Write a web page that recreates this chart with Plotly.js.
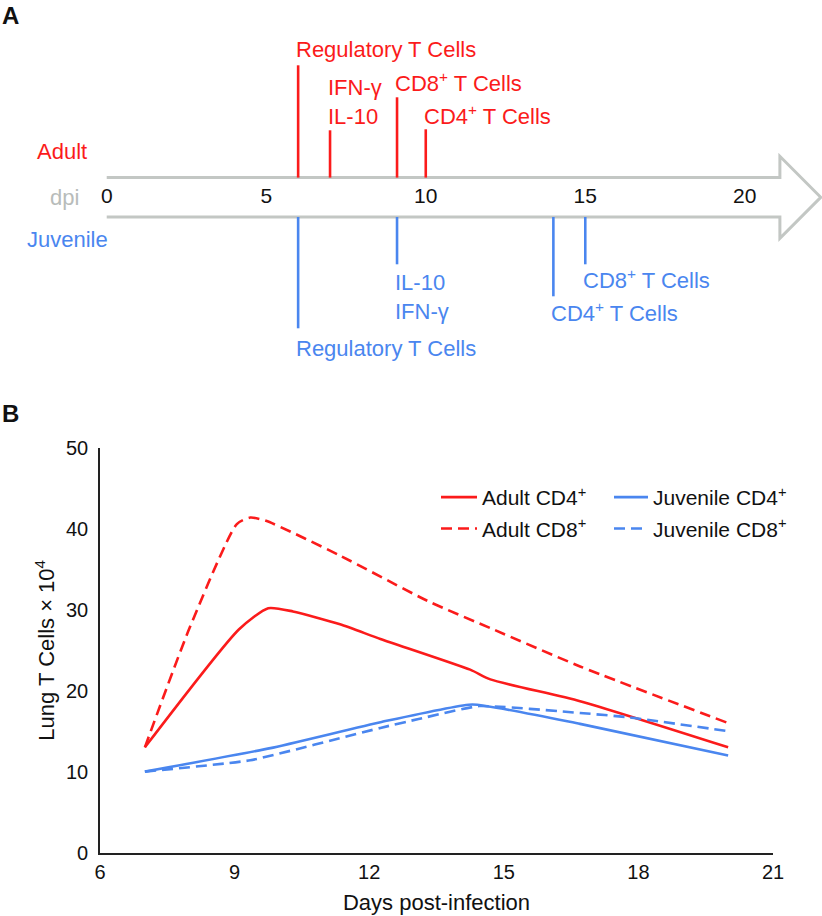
<!DOCTYPE html>
<html><head><meta charset="utf-8">
<script src="https://cdn.plot.ly/plotly-3.0.1.min.js"></script>
<style>html,body{margin:0;padding:0;background:#fff}#chart{width:822px;height:916px}</style>
</head><body><div id="chart"></div>
<script>
// ---------- Panel A data ----------
const dpiTicks = [0, 5, 10, 15, 20];
const adultEventDays = [6, 7, 9.1, 10];
const adultEventLabels = ['Regulatory T Cells', 'IFN-γ<br>IL-10', 'CD8<sup>+</sup> T Cells', 'CD4<sup>+</sup> T Cells'];
const juvenileEventDays = [6, 9.1, 14, 15];
const juvenileEventLabels = ['Regulatory T Cells', 'IL-10<br>IFN-γ', 'CD4<sup>+</sup> T Cells', 'CD8<sup>+</sup> T Cells'];

// ---------- Panel B data ----------
const adultCD4Days = [7, 9.1, 9.75, 10.3, 11.35, 12.25, 14.25, 14.7, 16.7, 20];
const adultCD4 = [13, 27.6, 30.2, 29.8, 28.2, 26.4, 22.6, 21.4, 18.7, 13];
const adultCD8Days = [7, 8.0, 9.05, 9.35, 9.7, 11.35, 13.3, 14.8, 16.7, 20];
const adultCD8 = [13, 27.8, 40.6, 41.4, 41.0, 36.7, 31.1, 27.5, 23.0, 16];
const juvenileCD4Days = [7, 9.8, 12.25, 14.3, 16.7, 20];
const juvenileCD4 = [10, 12.9, 16.1, 18.3, 15.9, 12];
const juvenileCD8Days = [7, 9.35, 12.25, 13.1, 14.45, 16.7, 17.8, 20];
const juvenileCD8 = [10, 11.4, 15.4, 16.5, 18.1, 17.25, 16.7, 15];

// ---------- styling / layout constants ----------
const W = 822, H = 916;
const RED = '#fb1b1b', BLUE = '#4a86ef', GRAY = '#c3c7c4';
const FONT = 'Liberation Sans, Arial, Helvetica, sans-serif';
const px = x => x / W;          // pixel -> paper x
const py = y => 1 - y / H;      // pixel -> paper y
// Panel A stem lengths (y2 units = pixels from arrow centre)
const arrowHalf = 19.7;
const adultStemTop = [132, 67, 100, 68];
const juvenileStemBottom = [-131, -67, -99, -67];
const adultLabelShift = [1, -1, -1, -2];
const juvenileLabelShift = [-6, -4, 0, 1];

function stems(days, ends) {
  const x = [], y = [];
  days.forEach((d, i) => { x.push(d, d, null); y.push(ends[i] > 0 ? arrowHalf : -arrowHalf, ends[i], null); });
  return {x, y};
}
const aS = stems(adultEventDays, adultStemTop);
const jS = stems(juvenileEventDays, juvenileStemBottom);

const lineW = 2.6, dashPat = '11px,6px';
const traces = [
  {x: aS.x, y: aS.y, xaxis: 'x2', yaxis: 'y2', mode: 'lines', line: {color: RED, width: 2.6}, showlegend: false, hoverinfo: 'skip'},
  {x: jS.x, y: jS.y, xaxis: 'x2', yaxis: 'y2', mode: 'lines', line: {color: BLUE, width: 2.6}, showlegend: false, hoverinfo: 'skip'},
  {x: dpiTicks, y: dpiTicks.map(() => 0), xaxis: 'x2', yaxis: 'y2', mode: 'text', text: dpiTicks.map(String),
   textfont: {family: FONT, size: 21, color: '#111'}, textposition: 'middle center', showlegend: false, hoverinfo: 'skip'},
  {x: adultCD4Days, y: adultCD4, name: 'Adult CD4<sup>+</sup>', mode: 'lines', line: {color: RED, width: lineW, shape: 'spline', smoothing: 0.6}, legend: 'legend', legendgroup: 'a'},
  {x: adultCD8Days, y: adultCD8, name: 'Adult CD8<sup>+</sup>', mode: 'lines', line: {color: RED, width: lineW, dash: dashPat, shape: 'spline', smoothing: 0.6}, legend: 'legend', legendgroup: 'b'},
  {x: juvenileCD4Days, y: juvenileCD4, name: 'Juvenile CD4<sup>+</sup>', mode: 'lines', line: {color: BLUE, width: lineW, shape: 'spline', smoothing: 0.4}, legend: 'legend2', legendgroup: 'c'},
  {x: juvenileCD8Days, y: juvenileCD8, name: 'Juvenile CD8<sup>+</sup>', mode: 'lines', line: {color: BLUE, width: lineW, dash: dashPat, shape: 'spline', smoothing: 0.4}, legend: 'legend2', legendgroup: 'd'}
];

const labelFont = (c) => ({family: FONT, size: 22, color: c});
const annotations = [];
adultEventDays.forEach((d, i) => annotations.push({
  x: d, y: adultStemTop[i], xref: 'x2', yref: 'y2', text: adultEventLabels[i], showarrow: false,
  xanchor: 'left', yanchor: 'bottom', align: 'left', xshift: -4, yshift: adultLabelShift[i], font: labelFont(RED)
}));
juvenileEventDays.forEach((d, i) => annotations.push({
  x: d, y: juvenileStemBottom[i], xref: 'x2', yref: 'y2', text: juvenileEventLabels[i], showarrow: false,
  xanchor: 'left', yanchor: 'top', align: 'left', xshift: -4, yshift: juvenileLabelShift[i], font: labelFont(BLUE)
}));
annotations.push(
  {x: px(89), y: py(151.7), xref: 'paper', yref: 'paper', text: 'Adult', showarrow: false, xanchor: 'right', yanchor: 'middle', font: labelFont(RED)},
  {x: px(64), y: py(197), xref: 'paper', yref: 'paper', text: 'dpi', showarrow: false, xanchor: 'center', yanchor: 'middle', font: labelFont('#b8bcba')},
  {x: px(67.5), y: py(239.3), xref: 'paper', yref: 'paper', text: 'Juvenile', showarrow: false, xanchor: 'center', yanchor: 'middle', font: labelFont(BLUE)},
  {x: px(0), y: py(15.7), xref: 'paper', yref: 'paper', text: '<b>A</b>', showarrow: false, xanchor: 'left', yanchor: 'middle', font: {family: FONT, size: 24, color: '#111'}},
  {x: px(0), y: py(413.3), xref: 'paper', yref: 'paper', text: '<b>B</b>', showarrow: false, xanchor: 'left', yanchor: 'middle', font: {family: FONT, size: 24, color: '#111'}}
);

// arrow outline (panel A) in x2/y2 coordinates
const headBase = 21.1, tip = 22.38, headHalf = 41;
const arrowPath = `M0,${arrowHalf} L${headBase},${arrowHalf} L${headBase},${headHalf} L${tip},0 L${headBase},${-headHalf} L${headBase},${-arrowHalf} L0,${-arrowHalf}`;

const layout = {
  width: W, height: H, margin: {l: 0, r: 0, t: 0, b: 0},
  paper_bgcolor: '#fff', plot_bgcolor: 'rgba(0,0,0,0)',
  font: {family: FONT, color: '#111'},
  hovermode: false,
  xaxis: {
    domain: [px(100), px(773)], range: [6, 21], tickvals: [6, 9, 12, 15, 18, 21],
    showgrid: false, zeroline: false, showline: true, linecolor: '#222', linewidth: 1.6,
    ticks: '', ticklabelstandoff: 1, tickfont: {family: FONT, size: 20, color: '#111'},
    title: {text: 'Days post-infection', font: {family: FONT, size: 22, color: '#111'}, standoff: 12},
    automargin: false, fixedrange: true
  },
  yaxis: {
    domain: [py(852.5), py(448)], range: [0, 50], tickvals: [0, 10, 20, 30, 40, 50],
    showgrid: false, zeroline: false, showline: true, linecolor: '#222', linewidth: 1.6,
    ticks: '', ticklabelstandoff: 6, tickfont: {family: FONT, size: 20, color: '#111'},
    title: {text: 'Lung T Cells × 10<sup>4</sup>', font: {family: FONT, size: 22, color: '#111'}, standoff: 5},
    automargin: false, fixedrange: true
  },
  xaxis2: {domain: [0, 1], range: [-3.345, 22.42], visible: false, anchor: 'y2', fixedrange: true},
  yaxis2: {domain: [py(360), 1], range: [-162.7, 197.3], visible: false, anchor: 'x2', fixedrange: true},
  shapes: [{type: 'path', xref: 'x2', yref: 'y2', path: arrowPath, line: {color: GRAY, width: 3}, fillcolor: 'rgba(0,0,0,0)', layer: 'below'}],
  annotations: annotations,
  legend: {x: px(436), y: py(477), xanchor: 'left', yanchor: 'top', bgcolor: 'rgba(0,0,0,0)', borderwidth: 0,
           font: {family: FONT, size: 21, color: '#111'}, tracegroupgap: 1, itemwidth: 36},
  legend2: {x: px(609), y: py(477), xanchor: 'left', yanchor: 'top', bgcolor: 'rgba(0,0,0,0)', borderwidth: 0,
            font: {family: FONT, size: 21, color: '#111'}, tracegroupgap: 1, itemwidth: 34},
  showlegend: true
};

Plotly.newPlot('chart', traces, layout, {displayModeBar: false});
</script>
</body></html>
